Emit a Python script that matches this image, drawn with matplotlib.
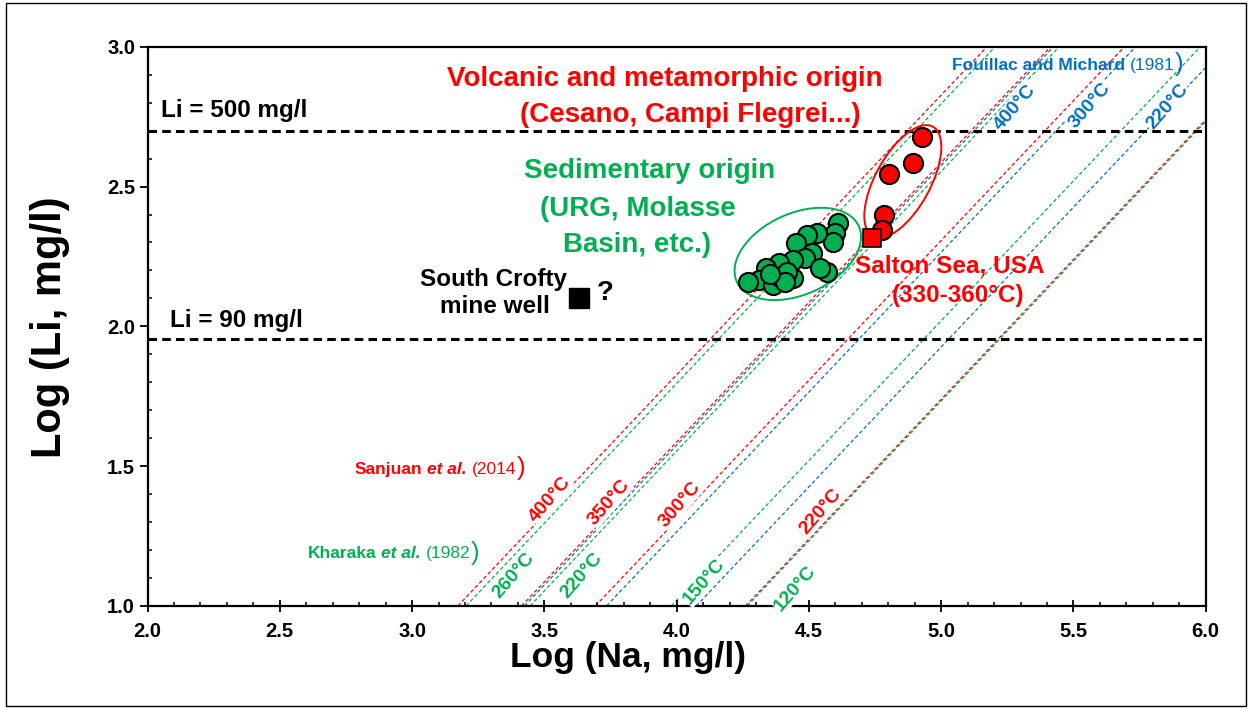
import numpy as np
import matplotlib
matplotlib.use("Agg")
import matplotlib.pyplot as plt
from matplotlib.patches import Ellipse, Rectangle
from matplotlib import transforms

plt.rcParams['font.family'] = ['Liberation Sans', 'DejaVu Sans']

RED = '#FF0000'
GREEN = '#00B050'
BLUE = '#0070C0'

# Sedimentary-origin waters (log Na, log Li in mg/l)
sed_log_na = [4.611, 4.598, 4.590, 4.529, 4.491, 4.451, 4.510, 4.485, 4.441, 4.388,
              4.337, 4.312, 4.271, 4.365, 4.390, 4.441, 4.416, 4.567, 4.542, 4.409, 4.353]
sed_log_li = [2.370, 2.333, 2.303, 2.333, 2.327, 2.299, 2.261, 2.243, 2.237, 2.225,
              2.210, 2.166, 2.160, 2.148, 2.177, 2.172, 2.195, 2.195, 2.207, 2.160, 2.187]

# Volcanic / metamorphic waters
volc_log_na = [4.929, 4.894, 4.804, 4.785, 4.777]
volc_log_li = [2.678, 2.583, 2.544, 2.398, 2.344]

# Salton Sea and South Crofty
salton_log_na, salton_log_li = 4.739, 2.315
crofty_log_na, crofty_log_li = 3.631, 2.101

# Li reference concentrations (mg/l)
li_refs = [500, 90]

# Na/Li isotherms: log Li = log Na - offset
sanjuan_temps = ['400°C', '350°C', '300°C', '220°C']
sanjuan_offsets = [2.173, 2.414, 2.693, 3.261]
kharaka_temps = ['260°C', '220°C', '150°C', '120°C']
kharaka_offsets = [2.204, 2.446, 2.980, 3.267]
fouillac_temps = ['400°C', '300°C', '220°C']
fouillac_offsets = [2.425, 2.735, 3.074]

fig = plt.figure(figsize=(12.5, 7.09), dpi=100)
ax = fig.add_axes([0.118, 0.1453, 0.8466, 0.7888])
ax.set_xlim(2.0, 6.0)
ax.set_ylim(1.0, 3.0)

# figure frame
fig.patches.append(Rectangle((0.005, 0.004), 0.992, 0.992, transform=fig.transFigure,
                             fill=False, ec='black', lw=1.0))

# isotherm lines
def isotherms(offsets, color):
    for c in offsets:
        ax.plot([1.0 + c, 3.0 + c], [1.0, 3.0], color=color, lw=0.9,
                dashes=(3, 2), zorder=1, clip_on=True)

isotherms(sanjuan_offsets, RED)
isotherms(kharaka_offsets, GREEN)
isotherms(fouillac_offsets, BLUE)

# isotherm labels
lab_kw = dict(fontsize=14, fontweight='bold', rotation=49, rotation_mode='anchor',
              ha='center', va='center', zorder=3,
              bbox=dict(fc='white', ec='none', pad=0.5))
sanjuan_lab_pos = [(3.521, 1.382), (3.744, 1.371), (4.012, 1.364), (4.545, 1.339)]
kharaka_lab_pos = [(3.386, 1.107), (3.643, 1.107), (4.104, 1.089), (4.448, 1.064)]
fouillac_lab_pos = [(5.278, 2.784), (5.562, 2.791), (5.856, 2.784)]
for t, (x, y) in zip(sanjuan_temps, sanjuan_lab_pos):
    ax.text(x, y, t, color=RED, **lab_kw)
for t, (x, y) in zip(kharaka_temps, kharaka_lab_pos):
    ax.text(x, y, t, color=GREEN, **lab_kw)
for t, (x, y) in zip(fouillac_temps, fouillac_lab_pos):
    ax.text(x, y, t, color=BLUE, **lab_kw)

# Li reference lines
for li in li_refs:
    ax.axhline(np.log10(li), color='black', lw=2.2, dashes=(2.8, 1.7), zorder=4)
ax.text(2.051, np.log10(li_refs[0]) + 0.05, 'Li = 500 mg/l', fontsize=17.5,
        fontweight='bold', ha='left', va='baseline', zorder=5)
ax.text(2.085, 1.998, 'Li = 90 mg/l', fontsize=17.5,
        fontweight='bold', ha='left', va='baseline', zorder=5)

# reference-citation labels with mixed styles
def citation(x, y, color, name, year, etal=True):
    size = 12.5
    prev = ax.text(x, y, name, color=color, fontsize=size, fontweight='bold',
                   ha='left', va='baseline', zorder=5)
    if etal:
        prev = ax.annotate('et al.', xy=(1, 0), xycoords=prev, xytext=(3.5, 0),
                           textcoords='offset points', color=color, fontsize=size,
                           fontweight='bold', fontstyle='italic', ha='left',
                           va='bottom', zorder=5)
    prev = ax.annotate('(' + year, xy=(1, 0), xycoords=prev, xytext=(3.5, 0),
                       textcoords='offset points', color=color, fontsize=size,
                       ha='left', va='bottom', zorder=5)
    ax.annotate(')', xy=(1, 0), xycoords=prev, xytext=(0.5, -2.5),
                textcoords='offset points', color=color, fontsize=size * 1.5,
                ha='left', va='bottom', zorder=5)

citation(2.784, 1.472, RED, 'Sanjuan', '2014')
citation(2.606, 1.171, GREEN, 'Kharaka', '1982')
citation(5.040, 2.917, BLUE, 'Fouillac and Michard', '1981', etal=False)

# group annotations
big = dict(fontsize=20, fontweight='bold', ha='center', va='baseline', zorder=6)
ax.text(3.956, 2.859, 'Volcanic and metamorphic origin', color=RED, **big)
ax.text(4.050, 2.732, '(Cesano, Campi Flegrei...)', color=RED, **big)
ax.text(3.899, 2.531, 'Sedimentary origin', color=GREEN, **big)
ax.text(3.854, 2.394, '(URG, Molasse', color=GREEN, **big)
ax.text(3.850, 2.266, 'Basin, etc.)', color=GREEN, **big)

mid = dict(fontsize=17.5, fontweight='bold', ha='center', va='baseline', zorder=6)
ax.text(3.309, 2.144, 'South Crofty', color='black', **mid)
ax.text(3.312, 2.047, 'mine well', color='black', **mid)
ax.text(3.729, 2.094, '?', color='black', fontsize=20, fontweight='bold',
        ha='center', va='baseline', zorder=6)
ax.text(5.033, 2.191, 'Salton Sea, USA', color=RED, **mid)
ax.text(5.063, 2.087, '(330-360°C)', color=RED, **mid)

# grouping ellipses (sized in inches, centred on data points)
def ellipse(cx, cy, w, h, ang, color):
    tr = fig.dpi_scale_trans + transforms.ScaledTranslation(cx, cy, ax.transData)
    ax.add_patch(Ellipse((0, 0), w, h, angle=ang, transform=tr, fill=False,
                         ec=color, lw=1.4, zorder=7))

ellipse(4.458, 2.259, 1.34, 0.81, 24.5, GREEN)
ellipse(4.855, 2.518, 1.25, 0.55, 61.3, RED)

# data points
ax.scatter(sed_log_na, sed_log_li, s=190, c=GREEN, edgecolors='black', linewidths=1.5, zorder=8)
ax.scatter(volc_log_na, volc_log_li, s=190, c=RED, edgecolors='black', linewidths=1.5, zorder=8)
ax.scatter([salton_log_na], [salton_log_li], s=170, marker='s', c=RED,
           edgecolors='black', linewidths=1.2, zorder=9)
ax.scatter([crofty_log_na], [crofty_log_li], s=190, marker='s', c='black', zorder=9)

# axes styling
for sp in ax.spines.values():
    sp.set_linewidth(1.6)
ax.set_xticks(np.arange(2.0, 6.01, 0.5))
ax.set_yticks(np.arange(1.0, 3.01, 0.5))
ax.set_xticks(np.arange(2.0, 6.01, 0.1), minor=True)
ax.set_yticks(np.arange(1.0, 3.01, 0.1), minor=True)
ax.set_xticklabels([f'{v:.1f}' for v in np.arange(2.0, 6.01, 0.5)])
ax.set_yticklabels([f'{v:.1f}' for v in np.arange(1.0, 3.01, 0.5)])
ax.tick_params(axis='x', which='major', direction='inout', length=9, width=1.3,
               labelsize=14.5, pad=7)
ax.tick_params(axis='y', which='major', direction='out', length=6, width=1.3,
               labelsize=14.5, pad=3)
ax.tick_params(which='minor', direction='in', length=3.2, width=1.1)
for lbl in ax.get_xticklabels() + ax.get_yticklabels():
    lbl.set_fontweight('bold')

# axis titles
fig.text(628 / 1250, 1 - 667 / 709, 'Log (Na, mg/l)', fontsize=25.5, fontweight='bold',
         ha='center', va='baseline')
fig.text(50 / 1250, 1 - 327 / 709, 'Log (Li, mg/l)', fontsize=30, fontweight='bold',
         ha='center', va='center', rotation=90)

fig.savefig('out.png', dpi=100)
